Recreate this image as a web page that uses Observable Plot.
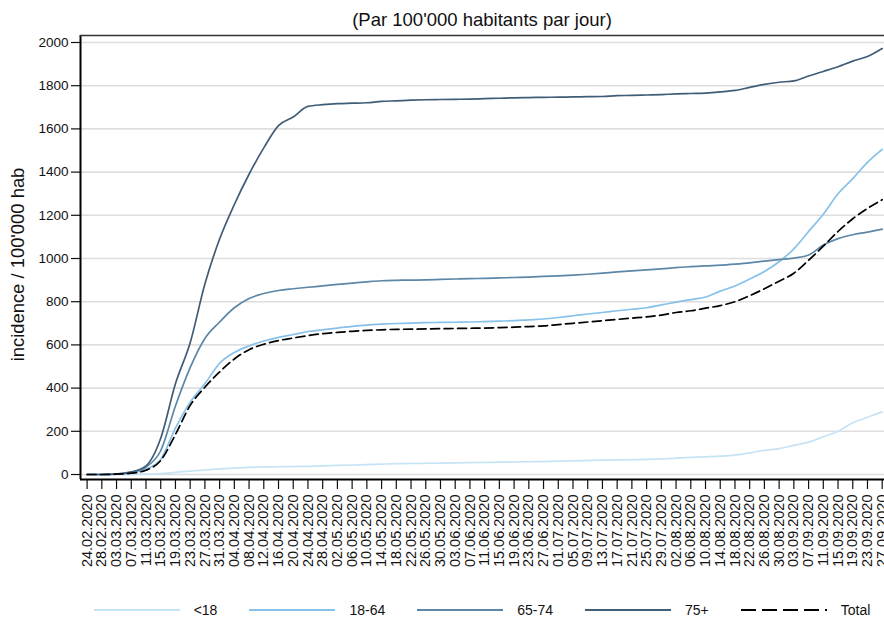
<!DOCTYPE html>
<html>
<head>
<meta charset="utf-8">
<script src="https://cdn.jsdelivr.net/npm/d3@7"></script>
<script src="https://cdn.jsdelivr.net/npm/@observablehq/plot@0.6"></script>
<style>
  body { margin: 0; background: #fff; font-family: "Liberation Sans", Arial, sans-serif; }
  #title { position: relative; width: 884px; height: 30px; }
  #title span { position: absolute; left: 80px; width: 804px; top: 9px; line-height: 22px;
    text-align: center; font-size: 18.5px; color: #111; }
  #legend { display: flex; justify-content: center; align-items: center; margin-left: 80px;
    width: 804px; height: 20px; margin-top: 26px; font-size: 14px; color: #111; white-space: nowrap; }
  #legend .item { display: flex; align-items: center; margin: 0 16px; flex-shrink: 0; }
  #legend svg { margin-right: 14px; flex-shrink: 0; }
</style>
</head>
<body>
<div id="title"><span>(Par 100'000 habitants par jour)</span></div>
<div id="chart"></div>
<div id="legend"></div>
<script>
// dates (every 4 days) = x tick labels
const dates = [
  "24.02.2020","28.02.2020","03.03.2020","07.03.2020","11.03.2020","15.03.2020","19.03.2020","23.03.2020","27.03.2020","31.03.2020",
  "04.04.2020","08.04.2020","12.04.2020","16.04.2020","20.04.2020","24.04.2020","28.04.2020",
  "02.05.2020","06.05.2020","10.05.2020","14.05.2020","18.05.2020","22.05.2020","26.05.2020","30.05.2020",
  "03.06.2020","07.06.2020","11.06.2020","15.06.2020","19.06.2020","23.06.2020","27.06.2020",
  "01.07.2020","05.07.2020","09.07.2020","13.07.2020","17.07.2020","21.07.2020","25.07.2020","29.07.2020",
  "02.08.2020","06.08.2020","10.08.2020","14.08.2020","18.08.2020","22.08.2020","26.08.2020","30.08.2020",
  "03.09.2020","07.09.2020","11.09.2020","15.09.2020","19.09.2020","23.09.2020","27.09.2020"
]

// cumulative incidence per 100'000
const under18 = [0,0,0,1,2,4,10,16,21,26, 30,33,35,36,37,38,40, 42,44,46,48,50,51,52,53,
  54,55,56,57,58,59,60, 62,63,65,67,68,69,70,72, 76,79,82,85,90,100,112,120, 135,150,175,200,240,265,290]
const age1864 = [0,0,3,8,25,70,215,335,420,515, 565,595,618,635,648,662,670, 678,686,692,696,699,701,703,704,
  705,706,708,710,712,716,720, 727,735,743,750,758,765,772,785, 798,810,822,849,873,905,940,985, 1045,1125,1205,1300,1370,1445,1505]
const age6574 = [0,0,2,10,35,110,317,495,630,706, 772,815,838,852,860,867,873, 880,886,892,897,899,900,901,903,
  905,907,908,910,912,914,917, 920,923,927,932,938,943,947,952, 958,962,966,969,974,980,988,995, 1002,1016,1062,1092,1110,1122,1136]
const age75 = [0,0,2,12,40,168,420,610,882,1090, 1250,1390,1512,1615,1655,1704,1712, 1717,1719,1721,1727,1730,1733,1735,1736,
  1737,1738,1740,1742,1744,1745,1746, 1747,1748,1749,1750,1754,1755,1757,1759, 1762,1764,1766,1771,1778,1792,1806,1816, 1822,1845,1866,1888,1914,1935,1972]
const total = [0,0,2,6,20,65,185,320,404,475, 535,578,603,620,632,643,652, 658,663,667,670,672,673,674,675,
  676,677,678,680,682,685,688, 694,700,706,712,718,724,730,738, 750,758,770,782,800,828,860,895, 932,992,1057,1125,1184,1232,1272]

const groups = ["<18", "18-64", "65-74", "75+"]
const colors = ["#c6e3f6", "#86c1e9", "#5d87a7", "#405d77"]
const yTicks = [0,200,400,600,800,1000,1200,1400,1600,1800,2000]

const parse = d3.utcParse("%d.%m.%Y")
const series = [under18, age1864, age6574, age75]
const rows = series.flatMap((vals, k) => dates.map((d, i) => ({date: parse(d), value: vals[i], group: groups[k]})))
const totalRows = dates.map((d, i) => ({date: parse(d), value: total[i]}))

const x0 = new Date(Date.UTC(2020, 1, 22, 5)), x1 = new Date(Date.UTC(2020, 8, 27, 15))
const y0 = -23.1, y1 = 2032.4

const chart = Plot.plot({
  width: 884,
  height: 544,
  marginLeft: 80,
  marginRight: 0,
  marginTop: 5,
  marginBottom: 95,
  style: {fontFamily: "Liberation Sans, Arial, sans-serif", fontSize: "13.5px", color: "#111", background: "white", overflow: "visible"},
  x: {type: "utc", domain: [x0, x1]},
  y: {domain: [y0, y1]},
  color: {domain: groups, range: colors},
  marks: [
    Plot.ruleY(yTicks, {stroke: "#dedede", strokeWidth: 1.6}),
    Plot.axisY({ticks: yTicks, tickFormat: d => String(d), tickSize: 9, tickPadding: 3, label: null, stroke: "#111", strokeWidth: 1.2}),
    Plot.axisX({ticks: dates.map(parse), tickFormat: d3.utcFormat("%d.%m.%Y"), tickRotate: -90, tickSize: 10, tickPadding: 5, fontSize: 14.5, label: null, stroke: "#111", strokeWidth: 1.2}),
    Plot.ruleX([x0], {stroke: "#000", strokeWidth: 2}),
    Plot.ruleY([y0], {stroke: "#000", strokeWidth: 2}),
    Plot.ruleY([y1], {stroke: "#333", strokeWidth: 1.5}),
    Plot.line(rows, {x: "date", y: "value", z: "group", stroke: "group", strokeWidth: 1.7, curve: "monotone-x"}),
    Plot.line(totalRows, {x: "date", y: "value", stroke: "#000", strokeWidth: 1.7, strokeDasharray: "9,4.5", curve: "monotone-x"}),
    Plot.text(["incidence / 100'000 hab"], {frameAnchor: "left", textAnchor: "middle", text: d => d, rotate: -90, dx: -62, dy: 7, fontSize: 18.4, fill: "#111"})
  ]
})
d3.select("#chart").append(() => chart)

// legend
const legendItems = groups.map((g, i) => ({label: g, color: colors[i], dash: null}))
  .concat([{label: "Total", color: "#000", dash: "15,6"}])
const items = d3.select("#legend").selectAll("div").data(legendItems).join("div").attr("class", "item")
items.append("svg").attr("width", 86).attr("height", 10)
  .append("line").attr("x1", 0).attr("x2", 86).attr("y1", 5).attr("y2", 5)
  .attr("stroke", d => d.color).attr("stroke-width", 2)
  .attr("stroke-dasharray", d => d.dash)
items.append("span").text(d => d.label)
</script>
</body>
</html>
